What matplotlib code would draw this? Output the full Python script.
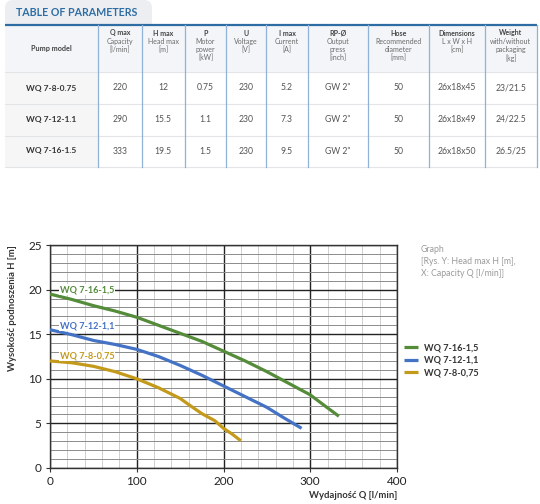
import matplotlib
matplotlib.use("Agg")
import matplotlib.pyplot as plt
from matplotlib.patches import FancyBboxPatch, Rectangle
from matplotlib.ticker import MultipleLocator

plt.rcParams['font.family'] = ['Lato', 'DejaVu Sans']

# ---------------- table data ----------------
table_title = "TABLE OF PARAMETERS"
header_bold = ["Pump model", "Q max", "H max", "P", "U", "I max", "RP-Ø", "Hose", "Dimensions", "Weight"]
header_rest = [[], ["Capacity", "[l/min]"], ["Head max", "[m]"], ["Motor", "power", "[kW]"],
               ["Voltage", "[V]"], ["Current", "[A]"], ["Output", "press", "[inch]"],
               ["Recommended", "diameter", "[mm]"], ["L x W x H", "[cm]"],
               ["with/without", "packaging", "[kg]"]]
models = ["WQ 7-8-0.75", "WQ 7-12-1.1", "WQ 7-16-1.5"]
q_max = ["220", "290", "333"]
h_max = ["12", "15.5", "19.5"]
power = ["0.75", "1.1", "1.5"]
voltage = ["230", "230", "230"]
current = ["5.2", "7.3", "9.5"]
output_press = ['GW 2"', 'GW 2"', 'GW 2"']
hose = ["50", "50", "50"]
dimensions = ["26x18x45", "26x18x49", "26x18x50"]
weight = ["23/21.5", "24/22.5", "26.5/25"]

# ---------------- chart data ----------------
q_16 = [0, 25, 50, 75, 100, 125, 150, 175, 200, 225, 250, 275, 300, 315, 333]
h_16 = [19.5, 18.9, 18.2, 17.6, 16.9, 16.0, 15.1, 14.2, 13.1, 12.0, 10.8, 9.5, 8.2, 7.1, 5.8]
q_12 = [0, 25, 50, 75, 100, 125, 150, 175, 200, 225, 250, 270, 290]
h_12 = [15.5, 14.95, 14.3, 13.85, 13.3, 12.5, 11.5, 10.4, 9.2, 8.0, 6.8, 5.6, 4.45]
q_8 = [0, 25, 50, 75, 100, 125, 150, 160, 175, 190, 200, 210, 220]
h_8 = [12.0, 11.8, 11.4, 10.8, 10.0, 9.0, 7.8, 7.1, 6.1, 5.3, 4.45, 3.8, 3.05]
series_labels = ["WQ 7-16-1,5", "WQ 7-12-1,1", "WQ 7-8-0,75"]
series_colors = ["#548c3a", "#4472c4", "#c49a1a"]

W, H = 540, 504
fig = plt.figure(figsize=(W / 100, H / 100), dpi=100)
fig.patch.set_facecolor("white")

# ---------------- table ----------------
tx = fig.add_axes([0, 0, 1, 1])
tx.set_xlim(0, W)
tx.set_ylim(H, 0)
tx.axis("off")

blue = "#2e6da4"
tab = FancyBboxPatch((5, 0), 147, 30, boxstyle="round,pad=0,rounding_size=8",
                     fc="#eceef2", ec="none")
tx.add_patch(tab)
tx.text(16, 12.5, table_title, color=blue, fontsize=7.7, fontweight="bold", va="center", ha="left")

cols = [5, 98, 141.5, 185, 226, 266, 308, 368, 429, 484.5, 537]
rows = [25, 72, 104, 135.5, 167]
tx.add_patch(Rectangle((5, 25), 532, 47, fc="#f3f5f8", ec="none"))
for r in range(3):
    tx.add_patch(Rectangle((5, rows[r + 1]), cols[1] - 5, rows[r + 2] - rows[r + 1], fc="#f6f6f6", ec="none"))
tx.plot([5, 537], [24.5, 24.5], color=blue, lw=1.6, solid_capstyle="butt")
for y in rows[1:]:
    tx.plot([5, 537], [y, y], color="#e2e4e8", lw=0.8)
for x in cols[1:]:
    tx.plot([x, x], [25, 167], color="#8fb2d6", lw=0.9)

centers = [(cols[i] + cols[i + 1]) / 2 for i in range(10)]
txtc = "#555555"
for i in range(10):
    if i == 0:
        tx.text(centers[i], 48, header_bold[i], ha="center", va="center", fontsize=5.2,
                fontweight="bold", color="#444444")
        continue
    tx.text(centers[i], 33, header_bold[i], ha="center", va="center", fontsize=5.0,
            fontweight="bold", color="#444444")
    for k, line in enumerate(header_rest[i]):
        tx.text(centers[i], 41.5 + 8.2 * k, line, ha="center", va="center", fontsize=5.0, color="#6a6a6a")

columns = [models, q_max, h_max, power, voltage, current, output_press, hose, dimensions, weight]
row_centers = [88, 119.5, 151]
for i, col in enumerate(columns):
    for r, val in enumerate(col):
        if i == 0:
            tx.text(centers[i], row_centers[r], val, ha="center", va="center", fontsize=6.0,
                    fontweight="bold", color="#333333")
        else:
            tx.text(centers[i], row_centers[r], val, ha="center", va="center", fontsize=6.2, color=txtc)

# ---------------- chart ----------------
ax = fig.add_axes([50 / W, 1 - 468 / H, (397 - 50) / W, (468 - 245) / H])
ax.set_xlim(0, 400)
ax.set_ylim(0, 25)
ax.xaxis.set_major_locator(MultipleLocator(100))
ax.yaxis.set_major_locator(MultipleLocator(5))
ax.xaxis.set_minor_locator(MultipleLocator(20))
ax.yaxis.set_minor_locator(MultipleLocator(1))
ax.grid(which="minor", axis="x", color="#cfcfcf", lw=0.7)
ax.grid(which="minor", axis="y", color="#8c8c8c", lw=0.7)
ax.grid(which="major", axis="both", color="#222222", lw=1.0)
ax.set_axisbelow(True)
for s in ax.spines.values():
    s.set_color("#333333")
    s.set_linewidth(1.0)
ax.tick_params(which="minor", length=0)
ax.tick_params(which="major", length=3, color="#333333", labelsize=8.5, labelcolor="#222222", pad=3)

data = [(q_16, h_16), (q_12, h_12), (q_8, h_8)]
for (q, h), lab, c in zip(data, series_labels, series_colors):
    ax.plot(q, h, color=c, lw=2.3, label=lab, solid_capstyle="butt", solid_joinstyle="round", zorder=3)

label_pos = [(11.5, 20.0), (11.5, 15.9), (11.5, 12.55)]
for (x, y), lab, c in zip(label_pos, series_labels, series_colors):
    ax.text(x, y, lab, color=c, fontsize=6.6, fontweight="bold", ha="left", va="center", zorder=4,
            bbox=dict(fc="white", ec="none", pad=0.6))

ax.set_xlabel("Wydajność Q [l/min]", fontsize=6.8, fontweight="bold", color="#333333", loc="right", labelpad=3)
ax.set_ylabel("Wysokość podnoszenia H [m]", fontsize=6.8, fontweight="bold", color="#333333", loc="top", labelpad=8)

fig.legend(handles=ax.get_lines(), labels=series_labels, loc="upper left",
           bbox_to_anchor=(400 / W, 1 - 340 / H), frameon=False, fontsize=6.6,
           handlelength=1.6, handletextpad=0.6, labelspacing=0.35, borderaxespad=0)
for t in fig.legends[0].get_texts():
    t.set_color("#333333")
    t.set_fontweight("bold")

fig.text(421 / W, 1 - 245 / H, "Graph\n[Rys. Y: Head max H [m],\nX: Capacity Q [l/min]]",
         fontsize=6.3, color="#9a9a9a", ha="left", va="top", linespacing=1.45)

fig.savefig("out.png", dpi=100)
